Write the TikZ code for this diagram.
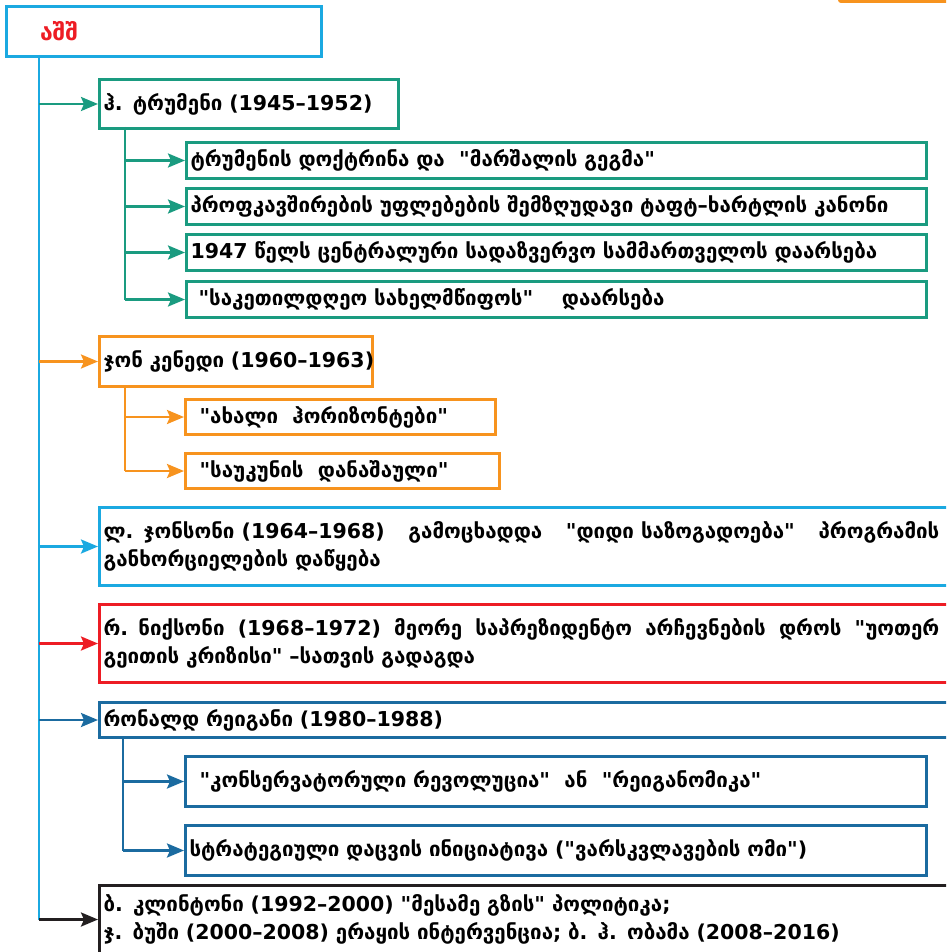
\documentclass[tikz,border=0pt]{standalone}
\usepackage{fontspec}
\newfontfamily\geo{DejaVu Sans}
\usetikzlibrary{arrows.meta}
\definecolor{cyanc}{HTML}{1BA9E1}
\definecolor{tealc}{HTML}{1A9B80}
\definecolor{orangec}{HTML}{F7931E}
\definecolor{redc}{HTML}{ED1C24}
\definecolor{bluec}{HTML}{1B6BA0}
\definecolor{darkc}{HTML}{231F20}
\newcommand\ws{\hspace{0.7em}}
\newcommand\spread[2]{\hbox to #1{\spaceskip=0.35em plus 1fil\relax #2}}
\tikzset{
  box/.style={draw, line width=3pt, anchor=north west, inner xsep=4pt, inner ysep=0pt, align=left, font=\geo\bfseries\fontsize{20.5}{28}\selectfont},
  link/.style={line width=2.6pt},
  arr/.style={line width=2.6pt, -{Stealth[length=17pt,width=14pt,inset=3pt]}},
}
\begin{document}
\begin{tikzpicture}[x=1pt,y=-1pt]
\useasboundingbox (0,0) rectangle (946,952);
\clip (0,0) rectangle (946,952);
% top right orange fragment
\fill[orangec, rounded corners=3pt] (838,-10) rectangle (960,3);
% title
\node[box, draw=cyanc, minimum width=315pt, minimum height=50pt, text width=300pt, font=\geo\bfseries\fontsize{23}{26}\selectfont, text=redc] (title) at (5,5) {\hspace{26pt}აშშ};
\coordinate (s) at (39,55);
% Truman
\node[box, draw=tealc, minimum height=49pt, text width=291pt] (truman) at (98,78) {\mbox{ჰ. ტრუმენი (1945–1952)}};
\coordinate (ts) at (125,127);
\node[box, draw=tealc, minimum height=36pt, text width=732pt] (t1) at (185,141) {ტრუმენის დოქტრინა და\ws "მარშალის გეგმა"};
\node[box, draw=tealc, minimum height=36pt, text width=732pt] (t2) at (185,187) {პროფკავშირების უფლებების შემზღუდავი ტაფტ–ხარტლის კანონი};
\node[box, draw=tealc, minimum height=36pt, text width=732pt] (t3) at (185,233) {1947 წელს ცენტრალური სადაზვერვო სამმართველოს დაარსება};
\node[box, draw=tealc, minimum height=36pt, text width=732pt] (t4) at (185,280) {\hspace{8pt}"საკეთილდღეო სახელმწიფოს"\ws\ws დაარსება};
% Kennedy
\node[box, draw=orangec, minimum height=50pt, text width=265pt] (kennedy) at (98,335) {\mbox{ჯონ კენედი (1960–1963)}};
\coordinate (ks) at (125,385);
\node[box, draw=orangec, minimum height=35pt, text width=302pt] (k1) at (184,398) {\hspace{10pt}"ახალი\ws ჰორიზონტები"};
\node[box, draw=orangec, minimum height=35pt, text width=306pt] (k2) at (184,452) {\hspace{10pt}"საუკუნის\ws დანაშაული"};
% Johnson
\node[box, draw=cyanc, minimum height=78pt, text width=900pt] (johnson) at (98,506) {\spread{836pt}{ლ. ჯონსონი (1964–1968)\hfill გამოცხადდა\hfill "დიდი საზოგადოება"\hfill პროგრამის}\\განხორციელების დაწყება};
% Nixon
\node[box, draw=redc, minimum height=78pt, text width=900pt] (nixon) at (98,603) {\spread{836pt}{რ. ნიქსონი (1968–1972) მეორე საპრეზიდენტო არჩევნების დროს "უოთერ}\\გეითის კრიზისი" –სათვის გადაგდა};
% Reagan
\node[box, draw=bluec, minimum height=35pt, text width=900pt] (reagan) at (98,701) {რონალდ რეიგანი (1980–1988)};
\coordinate (rs) at (123,736);
\node[box, draw=bluec, minimum height=50pt, text width=733pt] (r1) at (184,755) {\hspace{10pt}"კონსერვატორული რევოლუცია"\ws ან\ws "რეიგანომიკა"};
\node[box, draw=bluec, minimum height=50pt, text width=733pt] (r2) at (184,824) {სტრატეგიული დაცვის ინიციატივა ("ვარსკვლავების ომი")};
% last
\node[box, draw=darkc, minimum height=68pt, text width=900pt] (last) at (98,884) {ბ. კლინტონი (1992–2000) "მესამე გზის" პოლიტიკა;\\ჯ. ბუში (2000–2008) ერაყის ინტერვენცია; ბ. ჰ. ობამა (2008–2016)};
% spine
\draw[link, cyanc] (s) -- (s |- last.west);
\draw[arr, tealc] (s |- truman.west) -- (truman.west);
\draw[arr, orangec] (s |- kennedy.west) -- (kennedy.west);
\draw[arr, cyanc] (s |- johnson.west) -- (johnson.west);
\draw[arr, redc] (s |- nixon.west) -- (nixon.west);
\draw[arr, bluec] (s |- reagan.west) -- (reagan.west);
\draw[arr, darkc] (s |- last.west) -- (last.west);
% Truman subs
\draw[link, tealc] (ts) -- (ts |- t4.west);
\foreach \n in {t1,t2,t3,t4} \draw[arr, tealc] (ts |- \n.west) -- (\n.west);
% Kennedy subs
\draw[link, orangec] (ks) -- (ks |- k2.west);
\foreach \n in {k1,k2} \draw[arr, orangec] (ks |- \n.west) -- (\n.west);
% Reagan subs
\draw[link, bluec] (rs) -- (rs |- r2.west);
\foreach \n in {r1,r2} \draw[arr, bluec] (rs |- \n.west) -- (\n.west);
\end{tikzpicture}
\end{document}
